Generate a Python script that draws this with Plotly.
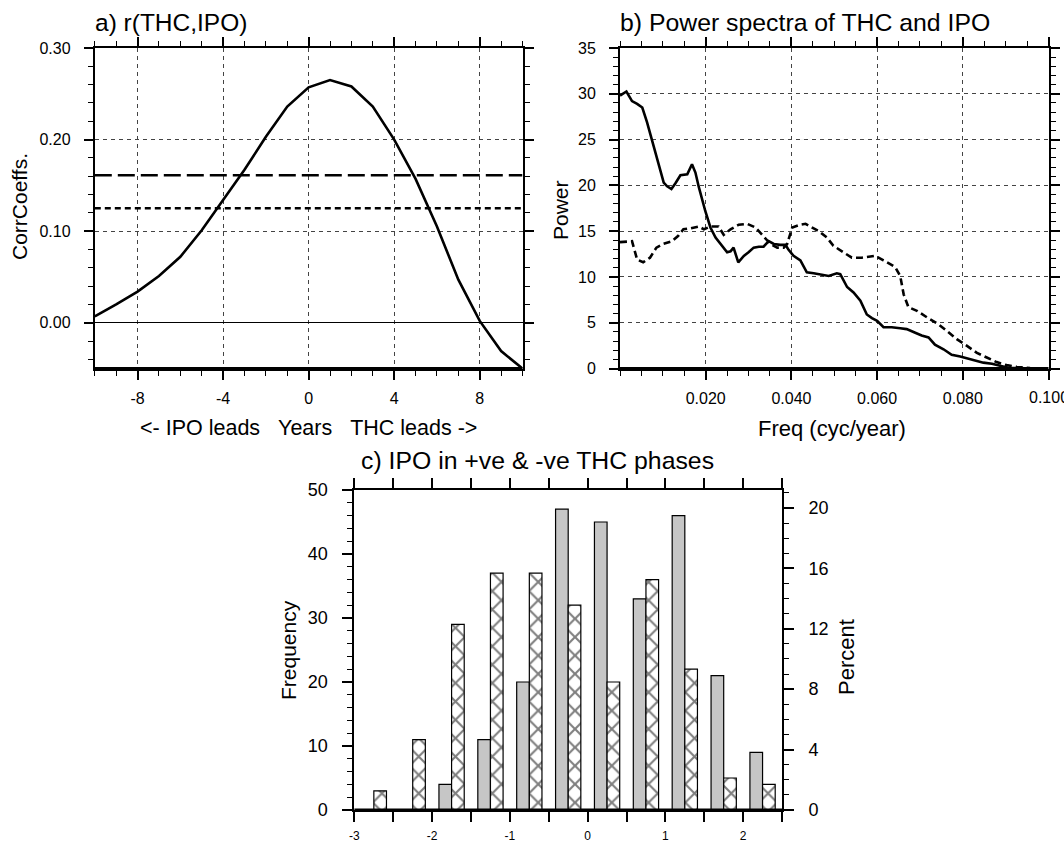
import plotly.graph_objects as go

# ---------------- data ----------------
# a) lagged correlation r(THC, IPO)
lags = [-10, -9, -8, -7, -6, -5, -4, -3, -2, -1, 0, 1, 2, 3, 4, 5, 6, 7, 8, 9, 10]
corr = [0.007, 0.020, 0.034, 0.051, 0.072, 0.101, 0.134, 0.167, 0.203, 0.236, 0.257,
        0.265, 0.258, 0.236, 0.200, 0.157, 0.105, 0.047, 0.002, -0.031, -0.050]
sig95 = 0.161
sig90 = 0.125
a_xticks = [-8, -4, 0, 4, 8]
a_xlabels = ["-8", "-4", "0", "4", "8"]

# b) power spectra
thc_freq = [0.0, 0.0015, 0.0028, 0.0040, 0.0052, 0.0063, 0.0079, 0.0090, 0.0102, 0.0110,
            0.0120, 0.0129, 0.0141, 0.0157, 0.0168, 0.0176, 0.0184, 0.0199, 0.0211, 0.0223,
            0.0238, 0.0250, 0.0258, 0.0265, 0.0276, 0.0289, 0.0300, 0.0312, 0.0324, 0.0335,
            0.0347, 0.0359, 0.0374, 0.0386, 0.0393, 0.0405, 0.0421, 0.0436, 0.0452, 0.0467,
            0.0487, 0.0506, 0.0514, 0.0530, 0.0545, 0.0561, 0.0576, 0.0588, 0.0600, 0.0615,
            0.0634, 0.0654, 0.0669, 0.0689, 0.0704, 0.0720, 0.0735, 0.0755, 0.0774, 0.0794,
            0.0809, 0.0829, 0.0848, 0.0868, 0.0887, 0.0906, 0.0926, 0.0965]
thc_power = [29.8, 30.25, 29.2, 28.9, 28.5, 26.9, 24.2, 22.3, 20.3, 19.9,
             19.6, 20.2, 21.1, 21.2, 22.3, 21.4, 19.8, 17.2, 15.4, 14.3,
             13.4, 12.7, 12.8, 13.2, 11.6, 12.3, 12.7, 13.2, 13.3, 13.3,
             13.9, 13.6, 13.5, 13.5, 13.0, 12.3, 11.8, 10.5, 10.4, 10.3,
             10.1, 10.4, 10.3, 8.9, 8.3, 7.4, 5.9, 5.5, 5.2, 4.5,
             4.5, 4.4, 4.3, 3.9, 3.6, 3.4, 2.6, 2.1, 1.5, 1.3,
             1.1, 0.9, 0.64, 0.52, 0.27, 0.09, 0.05, 0.0]
ipo_freq = [0.0, 0.0028, 0.0040, 0.0054, 0.0070, 0.0085, 0.0101, 0.0121, 0.0136, 0.0148,
            0.0164, 0.0184, 0.0196, 0.0211, 0.0230, 0.0242, 0.0258, 0.0277, 0.0297, 0.0316,
            0.0332, 0.0351, 0.0367, 0.0382, 0.0390, 0.0402, 0.0421, 0.0433, 0.0452, 0.0467,
            0.0483, 0.0498, 0.0518, 0.0541, 0.0564, 0.0580, 0.0596, 0.0615, 0.0642, 0.0654,
            0.0662, 0.0673, 0.0693, 0.0716, 0.0744, 0.0763, 0.0786, 0.0809, 0.0833, 0.0856,
            0.0879, 0.0902, 0.0926, 0.0957, 0.0980]
ipo_power = [13.8, 13.9, 11.9, 11.6, 12.1, 13.2, 13.6, 13.9, 14.5, 15.2,
             15.3, 15.5, 15.2, 15.5, 15.5, 14.6, 15.2, 15.7, 15.8, 15.4,
             14.6, 13.6, 13.2, 13.2, 13.6, 15.4, 15.7, 15.8, 15.3, 14.9,
             14.3, 13.4, 12.8, 12.1, 12.1, 12.2, 12.3, 11.8, 11.1, 10.1,
             8.1, 6.7, 6.3, 5.6, 4.8, 4.1, 3.2, 2.5, 1.7, 1.2,
             0.7, 0.37, 0.18, 0.05, 0.0]
b_xticks = [0.02, 0.04, 0.06, 0.08]
b_last_tick = 0.1

# c) histogram of IPO in +ve / -ve THC phases
bin_centers = [-2.75, -2.25, -1.75, -1.25, -0.75, -0.25, 0.25, 0.75, 1.25, 1.75, 2.25]
pos_counts = [0, 0, 4, 11, 20, 47, 45, 33, 46, 21, 9]
neg_counts = [3, 11, 29, 37, 37, 32, 20, 36, 22, 5, 4]
c_xticks = [-3, -2, -1, 0, 1, 2]
c_xlabels = ["-3", "-2", "-1", "0", "1", "2"]
total = sum(pos_counts)
pos_percent = [100.0 * v / total for v in pos_counts]

# ---------------- helpers ----------------
W, H = 1064, 842
FONT = "Liberation Sans"


def fx(px):
    return px / W


def fy(py):
    return 1 - py / H


A_X = [fx(94.8), fx(522.5)]
B_X = [fx(620), fx(1048.5)]
AB_Y = [fy(368.5), fy(48)]
C_X = [fx(354.4), fx(782)]
C_Y = [fy(810), fy(490)]

GRID = dict(showgrid=True, gridcolor="#444444", gridwidth=1, griddash="4px,4px")

fig = go.Figure()

# panel a
fig.add_trace(go.Scatter(x=lags, y=corr, mode="lines", line=dict(color="black", width=2.6),
                         xaxis="x", yaxis="y", showlegend=False))
fig.add_trace(go.Scatter(x=[lags[0], lags[-1]], y=[sig95, sig95], mode="lines",
                         line=dict(color="black", width=2.6, dash="17px,6px"),
                         xaxis="x", yaxis="y", showlegend=False))
fig.add_trace(go.Scatter(x=[lags[0], lags[-1]], y=[sig90, sig90], mode="lines",
                         line=dict(color="black", width=2.6, dash="6px,4px"),
                         xaxis="x", yaxis="y", showlegend=False))

# panel b
fig.add_trace(go.Scatter(x=thc_freq, y=thc_power, mode="lines",
                         line=dict(color="black", width=2.6),
                         xaxis="x2", yaxis="y2", showlegend=False))
fig.add_trace(go.Scatter(x=ipo_freq, y=ipo_power, mode="lines",
                         line=dict(color="black", width=2.6, dash="7px,4px"),
                         xaxis="x2", yaxis="y2", showlegend=False))

# panel c
fig.add_trace(go.Bar(x=bin_centers, y=pos_counts, xaxis="x3", yaxis="y3",
                     marker=dict(color="#c6c6c6", line=dict(color="black", width=1.2)),
                     showlegend=False))
fig.add_trace(go.Bar(x=bin_centers, y=neg_counts, xaxis="x3", yaxis="y3",
                     marker=dict(color="white", line=dict(color="black", width=1.2),
                                 pattern=dict(shape="x", fgcolor="black", bgcolor="white",
                                              size=13, solidity=0.3)),
                     showlegend=False))
fig.add_trace(go.Scatter(x=bin_centers, y=pos_percent, xaxis="x3", yaxis="y4",
                         mode="markers", marker=dict(opacity=0), hoverinfo="skip",
                         showlegend=False))

tickfont = dict(family=FONT, size=16, color="black")
common_x = dict(showline=True, linecolor="black", linewidth=2, mirror="allticks",
                ticks="outside", ticklen=9, tickwidth=1.5, tickcolor="black",
                zeroline=False, tickfont=tickfont, ticklabelstandoff=5, automargin=False)
common_y = dict(showline=True, linecolor="black", linewidth=2, mirror="allticks",
                ticks="outside", ticklen=9, tickwidth=1.5, tickcolor="black",
                tickfont=tickfont, ticklabelstandoff=10, automargin=False)

layout = dict(
    width=W, height=H,
    margin=dict(l=0, r=0, t=0, b=0, autoexpand=False),
    paper_bgcolor="white", plot_bgcolor="white",
    showlegend=False,
    barmode="group", bargap=0.35, bargroupgap=0,
    xaxis=dict(domain=A_X, anchor="y", range=[-10, 10], tickvals=a_xticks,
               ticktext=a_xlabels,
               minor=dict(dtick=1, tick0=0, ticklen=5, tickwidth=1, ticks="outside",
                          tickcolor="black", showgrid=False),
               **GRID, **common_x),
    yaxis=dict(domain=AB_Y, anchor="x", range=[-0.05, 0.30], tick0=0, dtick=0.1,
               tickformat=".2f",
               minor=dict(dtick=0.02, tick0=0, ticklen=5, tickwidth=1, ticks="outside",
                          tickcolor="black", showgrid=False),
               zeroline=True, zerolinecolor="black", zerolinewidth=1.2,
               **GRID, **common_y),
    xaxis2=dict(domain=B_X, anchor="y2", range=[0, 0.1],
                tickvals=b_xticks + [b_last_tick], tickformat=".3f",
                minor=dict(dtick=0.005, tick0=0, ticklen=5, tickwidth=1, ticks="outside",
                           tickcolor="black", showgrid=False),
                **GRID, **common_x),
    yaxis2=dict(domain=AB_Y, anchor="x2", range=[0, 35], tick0=0, dtick=5,
                minor=dict(dtick=1, tick0=0, ticklen=5, tickwidth=1, ticks="outside",
                           tickcolor="black", showgrid=False),
                zeroline=False, **GRID, **common_y),
    xaxis3=dict(domain=C_X, anchor="y3", range=[-3, 2.5], tickvals=c_xticks,
                ticktext=c_xlabels, showgrid=False,
                minor=dict(dtick=0.5, tick0=0, ticklen=10, tickwidth=1.5, ticks="outside",
                           tickcolor="black", showgrid=False),
                **{**common_x, "ticklen": 10,
                   "tickfont": dict(family=FONT, size=12, color="black"),
                   "ticklabelstandoff": 4}),
    yaxis3=dict(domain=C_Y, anchor="x3", range=[0, 50], tick0=0, dtick=10,
                showgrid=False, zeroline=False,
                minor=dict(dtick=2, tick0=0, ticklen=5, tickwidth=1, ticks="outside",
                           tickcolor="black", showgrid=False),
                **{**common_y, "mirror": False, "ticklen": 10,
                   "tickfont": dict(family=FONT, size=18, color="black"),
                   "ticklabelstandoff": 11}),
    yaxis4=dict(overlaying="y3", anchor="x3", side="right",
                range=[0, 100.0 * 50 / total], tick0=0, dtick=4,
                showgrid=False, zeroline=False,
                minor=dict(dtick=1, tick0=0, ticklen=5, tickwidth=1, ticks="outside",
                           tickcolor="black", showgrid=False),
                **{**common_y, "mirror": False, "ticklen": 10,
                   "tickfont": dict(family=FONT, size=18, color="black"),
                   "ticklabelstandoff": 11}),
)

fig.update_layout(**layout)

# thicker bottom borders
for xd, yd in [(A_X, AB_Y), (B_X, AB_Y), (C_X, C_Y)]:
    fig.add_shape(type="line", xref="paper", yref="paper", x0=xd[0], x1=xd[1],
                  y0=yd[0], y1=yd[0], line=dict(color="black", width=3.2))

NB = "\u00a0"


def ann(text, x, y, size, xanchor="center", angle=0):
    fig.add_annotation(text=text, x=fx(x), y=fy(y), xref="paper", yref="paper",
                       xanchor=xanchor, yanchor="middle", showarrow=False,
                       textangle=angle, font=dict(family=FONT, size=size, color="black"))


ann("a) r(THC,IPO)", 93, 23, 24.5, xanchor="left")
ann("b) Power spectra of THC and IPO", 618, 23, 24.8, xanchor="left")
ann("c) IPO in +ve &amp; -ve THC phases", 359, 460, 24.8, xanchor="left")
ann("CorrCoeffs.", 19, 207, 21, angle=-90)
ann("Power", 561, 210, 21, angle=-90)
ann("Frequency", 288, 650, 21, angle=-90)
ann("Percent", 846, 657, 22, angle=-90)
ann("&lt;- IPO leads" + NB * 3 + "Years" + NB * 3 + "THC leads -&gt;", 308, 428, 21.5)
ann("Freq (cyc/year)", 832, 428, 22)

# last tick label of panel b, which runs off the right edge of the page (as in the original)
fig.add_annotation(text=f"{b_last_tick:.3f}", x=b_last_tick, xref="x2",
                   y=fy(397), yref="paper", xanchor="center", yanchor="middle",
                   showarrow=False, font=tickfont)

fig.write_html("out.html", config={"displayModeBar": False},
               post_script="document.body.style.margin='0';document.body.style.overflow='hidden';")
